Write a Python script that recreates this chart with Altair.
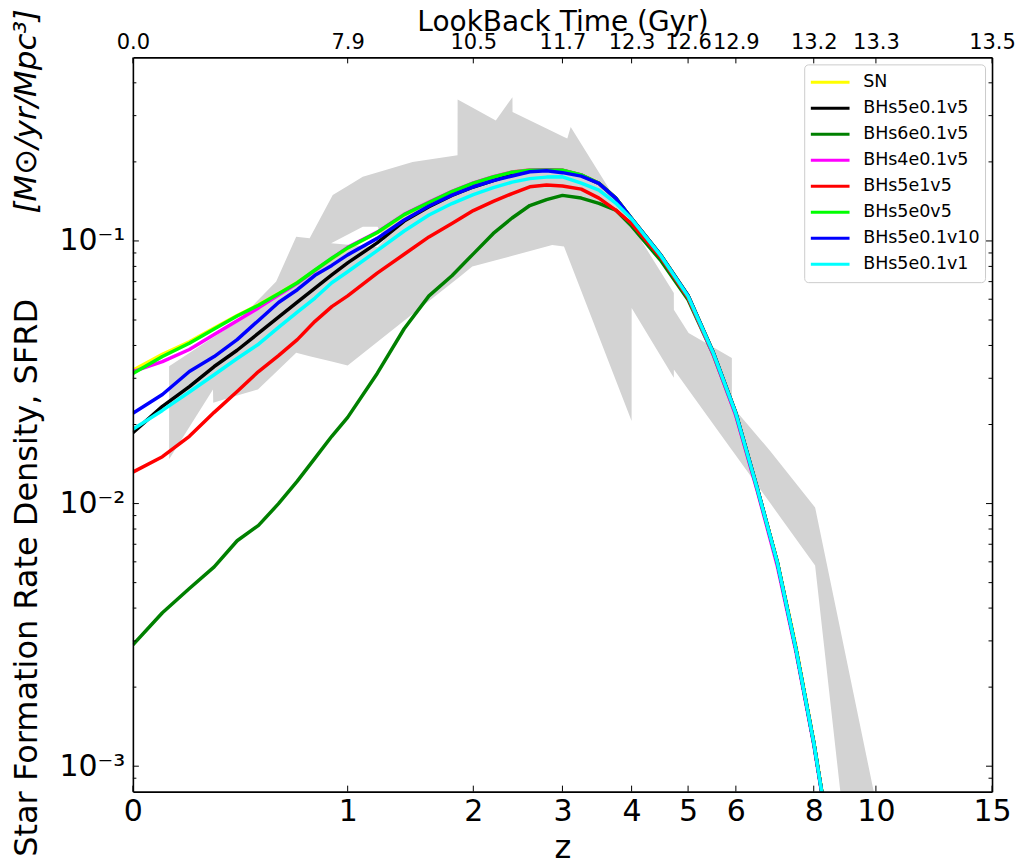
import math
import altair as alt
import pandas as pd

# ---------------- data ----------------
Z = [0, 0.1, 0.2, 0.3, 0.4, 0.5, 0.6, 0.7, 0.8, 0.9, 1.0, 1.2, 1.4, 1.6, 1.8,
     2.0, 2.2, 2.4, 2.6, 2.8, 3.0, 3.25, 3.5, 3.75, 4.0, 4.5, 5.0, 5.5, 6.0,
     6.5, 7.0, 7.5, 8.0, 8.3]

SERIES = ["SN", "BHs5e0.1v5", "BHs6e0.1v5", "BHs4e0.1v5", "BHs5e1v5",
          "BHs5e0v5", "BHs5e0.1v10", "BHs5e0.1v1"]
COLORS = ["#ffff00", "#000000", "#008000", "#ff00ff", "#ff0000",
          "#00ff00", "#0000ff", "#00ffff"]

SFRD_SN = [0.0322, 0.0370, 0.0413, 0.0466, 0.0520, 0.0571, 0.0630, 0.0695, 0.0772, 0.0855,
           0.0938, 0.1075, 0.1255, 0.1398, 0.1538, 0.1658, 0.1752, 0.1830, 0.1862, 0.1865,
           0.1858, 0.1782, 0.1660, 0.1460, 0.1220, 0.0882, 0.0620, 0.0380, 0.0222, 0.0115,
           0.00605, 0.00285, 0.00125, 0.00072]
SFRD_BHs5e01v5 = [0.01863, 0.02344, 0.0279, 0.03325, 0.03835, 0.04457, 0.0513, 0.0585, 0.0661, 0.0743,
                  0.0825, 0.0983, 0.1190, 0.1350, 0.1490, 0.1605, 0.1697, 0.1790, 0.1850, 0.1862,
                  0.1855, 0.1780, 0.1656, 0.1456, 0.1217, 0.0879, 0.0619, 0.0379, 0.0221, 0.01145,
                  0.00598, 0.00278, 0.00123, 0.00071]
SFRD_BHs6e01v5 = [0.0029, 0.00384, 0.00475, 0.00574, 0.00722, 0.00826, 0.00999, 0.01217, 0.0149, 0.01804,
                  0.02129, 0.0313, 0.0463, 0.0618, 0.0737, 0.0893, 0.1068, 0.1223, 0.1364, 0.1437,
                  0.1491, 0.1456, 0.1390, 0.1311, 0.1139, 0.0839, 0.0597, 0.0372, 0.0218, 0.0113,
                  0.00598, 0.00278, 0.00123, 0.00071]
SFRD_BHs4e01v5 = [0.0318, 0.0347, 0.0386, 0.0440, 0.0497, 0.0556, 0.0622, 0.0690, 0.0772, 0.0858,
                  0.0945, 0.1080, 0.1262, 0.1405, 0.1545, 0.1662, 0.1755, 0.1830, 0.1862, 0.1862,
                  0.1858, 0.1785, 0.1652, 0.1450, 0.1212, 0.0872, 0.0612, 0.0372, 0.0216, 0.0112,
                  0.0058, 0.00272, 0.00121, 0.00070]
SFRD_BHs5e1v5 = [0.01317, 0.01508, 0.01804, 0.02225, 0.02673, 0.03183, 0.0366, 0.0421, 0.04943, 0.0562,
                 0.0618, 0.0754, 0.0890, 0.1036, 0.1165, 0.1305, 0.1415, 0.1515, 0.1608, 0.1632,
                 0.1618, 0.1575, 0.1456, 0.1311, 0.1165, 0.0862, 0.0608, 0.0376, 0.0220, 0.0114,
                 0.00598, 0.00278, 0.00123, 0.00071]
SFRD_BHs5e0v5 = [0.0313, 0.0363, 0.0408, 0.0462, 0.0518, 0.0569, 0.0629, 0.0693, 0.0775, 0.0859,
                 0.0941, 0.1077, 0.1260, 0.1401, 0.1541, 0.1660, 0.1752, 0.1828, 0.1860, 0.1860,
                 0.1860, 0.1785, 0.1656, 0.1456, 0.1217, 0.0879, 0.0619, 0.0379, 0.0221, 0.01145,
                 0.00598, 0.00278, 0.00123, 0.00071]
SFRD_BHs5e01v10 = [0.02206, 0.02603, 0.03183, 0.03628, 0.0421, 0.0498, 0.0583, 0.0652, 0.0740, 0.0807,
                   0.0885, 0.1023, 0.1202, 0.1358, 0.1495, 0.1608, 0.1697, 0.1768, 0.1834, 0.1852,
                   0.1820, 0.1765, 0.1656, 0.1456, 0.1217, 0.0879, 0.0619, 0.0379, 0.0221, 0.01145,
                   0.00598, 0.00278, 0.00123, 0.00071]
SFRD_BHs5e01v1 = [0.01918, 0.02263, 0.02661, 0.03095, 0.03566, 0.04045, 0.0469, 0.05355, 0.0606, 0.0693,
                  0.0763, 0.0919, 0.1091, 0.1255, 0.1388, 0.1502, 0.1596, 0.1675, 0.1727, 0.1750,
                  0.1755, 0.1660, 0.1561, 0.1394, 0.1212, 0.0875, 0.0615, 0.0377, 0.0220, 0.0114,
                  0.00598, 0.00278, 0.00123, 0.00071]
SERIES_VALUES = [SFRD_SN, SFRD_BHs5e01v5, SFRD_BHs6e01v5, SFRD_BHs4e01v5, SFRD_BHs5e1v5,
                 SFRD_BHs5e0v5, SFRD_BHs5e01v10, SFRD_BHs5e01v1]

# observational band (lower / upper envelope)
BAND_Z = [0.124, 0.295, 0.296, 0.4, 0.497, 0.588, 0.694, 0.769, 0.906, 1.0,
          1.10, 1.466, 1.851, 1.852, 1.99, 2.226, 2.404, 2.405, 2.87, 3.02,
          3.063, 3.108, 4.0, 4.001, 4.73, 4.731, 5.01, 5.91, 5.911, 6.82,
          8.04, 8.8, 9.91, 10.0]
BAND_LO = [0.01476, 0.0272, 0.02421, 0.02578, 0.0272, 0.0317, 0.0375, 0.03641, 0.03465, 0.03354,
           0.03726, 0.05265, 0.072, 0.072, 0.07989, 0.08441, 0.08786, 0.08786, 0.09656, 0.09515,
           0.08833, 0.08179, 0.02062, 0.05554, 0.03012, 0.03239, 0.02706, 0.016, 0.016, 0.01004,
           0.005806, 0.000813, 0.00013, 0.00012]
BAND_HI = [0.03334, 0.04288, 0.04288, 0.04927, 0.0594, 0.07007, 0.1038, 0.1024, 0.1495, 0.1618,
           0.1754, 0.2, 0.2121, 0.3458, 0.3222, 0.2878, 0.3528, 0.3096, 0.2616, 0.2488,
           0.2454, 0.2716, 0.1149, 0.1149, 0.0633, 0.05471, 0.04465, 0.03587, 0.02351, 0.01586,
           0.00967, 0.003346, 0.000813, 0.000737]
# small gap inside the band
GAP_Z = [0.896, 1.10, 1.203, 1.25]
GAP_LO = [0.098, 0.0957, 0.0949, 0.1009]
GAP_HI = [0.098, 0.1133, 0.1133, 0.1009]

X_TICKS = [0, 1, 2, 3, 4, 5, 6, 8, 10, 15]
LOOKBACK = ["0.0", "7.9", "10.5", "11.7", "12.3", "12.6", "12.9", "13.2", "13.3", "13.5"]
Y_MAJOR = [0.001, 0.01, 0.1]
Y_MINOR = [0.0009, 0.002, 0.003, 0.004, 0.005, 0.006, 0.007, 0.008, 0.009,
           0.02, 0.03, 0.04, 0.05, 0.06, 0.07, 0.08, 0.09, 0.2, 0.3, 0.4]

# ---------------- layout ----------------
W, H = 860, 735
FONT = "DejaVu Sans"

lines_df = pd.DataFrame(
    [{"z": z, "sfrd": v, "series": s}
     for s, vals in zip(SERIES, SERIES_VALUES) for z, v in zip(Z, vals)]
)
band_df = pd.DataFrame({"z": BAND_Z, "sfrd": BAND_LO, "sfrd2": BAND_HI})
gap_df = pd.DataFrame({"z": GAP_Z, "sfrd": GAP_LO, "sfrd2": GAP_HI})
xt_df = pd.DataFrame({"z": X_TICKS})
ymaj_df = pd.DataFrame({"sfrd": Y_MAJOR})
ymin_df = pd.DataFrame({"sfrd": Y_MINOR})

LZ = "log(1 + datum.z) / LN10"
xscale = alt.Scale(domain=[0, math.log10(16)], nice=False, zero=False)
yscale = alt.Scale(type="log", domain=[0.0008, 0.5], nice=False)
tick_vals = [math.log10(1 + z) for z in X_TICKS]

top_expr = "''"
for z, lab in reversed(list(zip(X_TICKS, LOOKBACK))):
    top_expr = f"round(pow(10, datum.value) - 1) == {z} ? '{lab}' : ({top_expr})"

sup = {"-3": "10⁻³", "-2": "10⁻²", "-1": "10⁻¹"}
y_expr = "''"
for k, lab in sup.items():
    y_expr = f"round(log(datum.value) / LN10) == {k} ? '{lab}' : ({y_expr})"

common_axis = dict(grid=False, ticks=False, tickSize=0, domain=True, domainColor="black",
                   domainWidth=1.6, zindex=1, labelColor="black", titleColor="black",
                   labelFont=FONT, titleFont=FONT, labelOverlap=False, labelFlush=False)

x_bottom = alt.Axis(orient="bottom", values=tick_vals,
                    labelExpr="format(pow(10, datum.value) - 1, '.0f')",
                    labelFontSize=30, labelPadding=5, title="z", titleFontSize=32,
                    titleFontWeight="normal", titleY=66, titleBaseline="alphabetic",
                    **common_axis)
x_top = alt.Axis(orient="top", values=tick_vals, labelExpr=top_expr,
                 labelFontSize=21, labelPadding=5, title="LookBack Time (Gyr)",
                 titleFontSize=28, titleFontWeight="normal", titleY=-27,
                 titleBaseline="alphabetic", **common_axis)
y_left = alt.Axis(orient="left", values=Y_MAJOR, labelExpr=y_expr, labelFontSize=30,
                  labelPadding=8, title=None, **common_axis)
y_right = alt.Axis(orient="right", labels=False, title=None, **common_axis)

band = alt.Chart(band_df).transform_calculate(lz=LZ).mark_area(
    color="#d3d3d3", opacity=1, clip=True
).encode(
    x=alt.X("lz:Q", scale=xscale, axis=x_bottom),
    y=alt.Y("sfrd:Q", scale=yscale, axis=y_left),
    y2="sfrd2:Q",
)

gap = alt.Chart(gap_df).transform_calculate(lz=LZ).mark_area(
    color="white", opacity=1, clip=True
).encode(
    x=alt.X("lz:Q", scale=xscale, axis=x_top),
    y=alt.Y("sfrd:Q", scale=yscale, axis=y_right),
    y2="sfrd2:Q",
)

color = alt.Color(
    "series:N",
    scale=alt.Scale(domain=SERIES, range=COLORS),
    legend=alt.Legend(
        title=None, orient="none", legendX=672, legendY=7,
        symbolType="stroke", symbolSize=1500, symbolStrokeWidth=3,
        labelFontSize=17.5, labelFont=FONT, labelColor="black", labelOffset=12,
        clipHeight=26, rowPadding=0, padding=5,
        strokeColor="#cccccc", fillColor="white", cornerRadius=4,
    ),
)

line_layers = []
for s in SERIES:
    line_layers.append(
        alt.Chart(lines_df).transform_filter(alt.datum.series == s)
        .transform_calculate(lz=LZ)
        .mark_line(strokeWidth=3.5, clip=True, strokeJoin="round")
        .encode(
            x=alt.X("lz:Q", scale=xscale, axis=None),
            y=alt.Y("sfrd:Q", scale=yscale, axis=None),
            color=color,
            order=alt.Order("z:Q"),
        )
    )

def yticks(df, length, left=True):
    x0 = 0 if left else W
    x1 = length if left else W - length
    return alt.Chart(df).mark_rule(color="black", strokeWidth=1).encode(
        y=alt.Y("sfrd:Q", scale=yscale, axis=None),
        x=alt.value(x0), x2=alt.value(x1),
    )

def xticks(length, bottom=True):
    y0 = H if bottom else 0
    y1 = H - length if bottom else length
    return alt.Chart(xt_df).transform_calculate(lz=LZ).mark_rule(
        color="black", strokeWidth=1
    ).encode(
        x=alt.X("lz:Q", scale=xscale, axis=None),
        y=alt.value(y0), y2=alt.value(y1),
    )

tick_layers = [
    yticks(ymaj_df, 6, True), yticks(ymin_df, 3.5, True),
    yticks(ymaj_df, 6, False), yticks(ymin_df, 3.5, False),
    xticks(6, True), xticks(6, False),
]

ytitle1 = alt.Chart(pd.DataFrame({"t": ["Star Formation Rate Density, SFRD"]})).mark_text(
    angle=270, fontSize=32, font=FONT, color="black", align="center", baseline="middle"
).encode(text="t:N", x=alt.value(-106), y=alt.value(521))
ytitle2 = alt.Chart(pd.DataFrame({"t": ["[M⊙/yr/Mpc³]"]})).mark_text(
    angle=270, fontSize=31, font=FONT, fontStyle="italic", color="black",
    align="center", baseline="middle"
).encode(text="t:N", x=alt.value(-106), y=alt.value(54))

chart = alt.layer(
    band, gap, *line_layers, *tick_layers, ytitle1, ytitle2
).resolve_axis(x="independent", y="independent").properties(
    width=W, height=H,
    autosize=alt.AutoSizeParams(type="none"),
    padding={"left": 125, "top": 49, "right": 25, "bottom": 75},
).configure(font=FONT).configure_view(stroke=None)

chart.save("out.html", embed_options={"renderer": "svg", "actions": False})
